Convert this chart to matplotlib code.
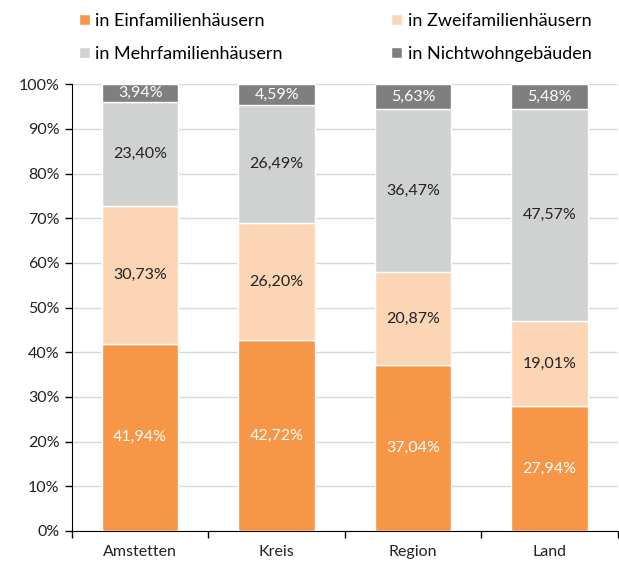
import numpy as np
import matplotlib
matplotlib.use("Agg")
import matplotlib.pyplot as plt

plt.rcParams['font.family'] = ['Lato', 'DejaVu Sans']

categories = ['Amstetten', 'Kreis', 'Region', 'Land']
series_names = ['in Einfamilienhäusern', 'in Zweifamilienhäusern',
                'in Mehrfamilienhäusern', 'in Nichtwohngebäuden']
einfam = [41.94, 42.72, 37.04, 27.94]
zweifam = [30.73, 26.20, 20.87, 19.01]
mehrfam = [23.40, 26.49, 36.47, 47.57]
nichtwohn = [3.94, 4.59, 5.63, 5.48]

colors = ['#F79646', '#FCD5B4', '#D0D2D1', '#7F7F7F']
text_colors = ['white', '#222222', '#222222', 'white']

fig = plt.figure(figsize=(6.19, 5.61), dpi=100)
ax = fig.add_axes([0.1163, 0.0535, 0.8817, 0.7965])

x = np.arange(len(categories))
bottom = np.zeros(len(categories))
handles = []
for vals, name, col, tcol in zip([einfam, zweifam, mehrfam, nichtwohn],
                                 series_names, colors, text_colors):
    vals = np.array(vals)
    b = ax.bar(x, vals, 0.56, bottom=bottom, color=col, edgecolor='white',
               linewidth=1, label=name, zorder=3)
    handles.append(b)
    for xi, v, bt in zip(x, vals, bottom):
        ax.text(xi, bt + v / 2, f'{v:.2f}%'.replace('.', ','), ha='center',
                va='center', color=tcol, fontsize=11.5, zorder=4)
    bottom += vals

ax.set_xlim(-0.5, 3.5)
ax.set_ylim(0, 100)
ax.set_yticks(np.arange(0, 101, 10))
ax.set_yticklabels([f'{v}%' for v in range(0, 101, 10)], fontsize=11.5, color='#222222')
ax.set_xticks(x)
ax.set_xticklabels(categories, fontsize=11.5, color='#222222')
ax.set_xticks(np.arange(-0.5, 4, 1), minor=True)
ax.tick_params(axis='x', which='major', length=0, pad=10)
ax.tick_params(axis='x', which='minor', length=5, width=1)
ax.tick_params(axis='y', length=5, width=1, pad=4)
ax.yaxis.grid(True, color='#D9D9D9', linewidth=1, zorder=0)
ax.spines['top'].set_visible(False)
ax.spines['right'].set_visible(False)

order = [0, 2, 1, 3]
fig.legend([handles[i] for i in order], [series_names[i] for i in order],
           ncol=2, loc='upper left', bbox_to_anchor=(0.128, 0.977),
           frameon=False, fontsize=13, handlelength=0.6, handleheight=0.6,
           handletextpad=0.3, columnspacing=6.0, labelspacing=0.95,
           borderpad=0, borderaxespad=0)

fig.savefig('out.png', dpi=100)
